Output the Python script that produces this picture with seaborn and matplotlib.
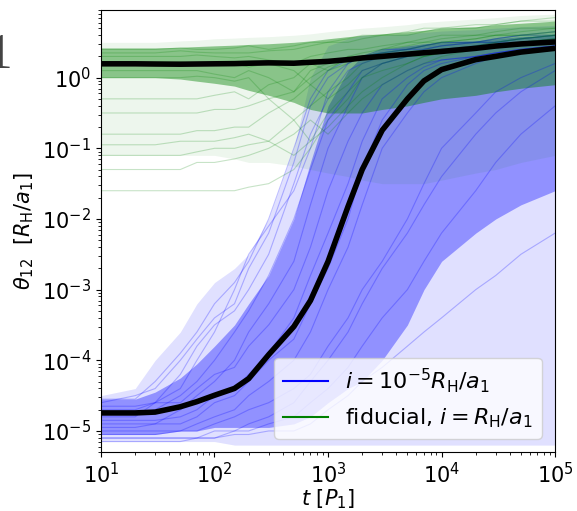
import numpy as np
import pandas as pd
import matplotlib
matplotlib.use('Agg')
import matplotlib.pyplot as plt
import seaborn as sns

# time grid (in P1) shared by all traced curves
t = [10, 20, 30, 50, 70, 100, 150, 200, 300, 500, 700, 1000,
     1500, 2000, 3000, 5000, 7000, 10000, 20000, 30000, 50000, 100000]

# medians (black curves)
blue_median = [1.8e-5, 1.8e-5, 1.85e-5, 2.2e-5, 2.6e-5, 3.2e-5, 4.0e-5, 5.5e-5,
               1.2e-4, 3.0e-4, 7.0e-4, 2.5e-3, 1.5e-2, 5.0e-2, 0.18, 0.5, 0.9,
               1.3, 1.8, 2.0, 2.3, 2.6]
green_median = [1.57, 1.57, 1.56, 1.55, 1.56, 1.57, 1.58, 1.6, 1.62, 1.6, 1.65, 1.7,
                1.8, 1.9, 2.0, 2.15, 2.25, 2.35, 2.6, 2.8, 3.0, 3.2]

# envelopes of the two clouds (log10 values)
blue_outer_lo = [-5.15] * 6 + [-5.2] * 16
blue_outer_hi = [-4.5, -4.4, -4.0, -3.6, -3.2, -2.9, -2.7, -2.5, -2.0, -1.0, 0.0, 0.45,
                 0.55, 0.6, 0.6, 0.62, 0.64, 0.66, 0.68, 0.7, 0.72, 0.74]
blue_inner_lo = [-5.05, -5.05, -5.05, -5.0, -5.0, -4.95, -4.95, -4.95, -4.95, -4.9, -4.8,
                 -4.6, -4.4, -4.3, -4.0, -3.5, -3.0, -2.6, -2.2, -2.0, -1.8, -1.6]
blue_inner_hi = [-4.55, -4.55, -4.45, -4.25, -4.05, -3.8, -3.5, -3.2, -2.8, -2.0, -1.2, -0.4,
                 0.1, 0.3, 0.4, 0.45, 0.48, 0.5, 0.52, 0.55, 0.58, 0.6]

green_outer_lo = [-1.1, -1.1, -1.1, -1.1, -1.1, -1.1, -1.15, -1.2, -1.2, -1.25, -1.3,
                  -1.35, -1.4, -1.45, -1.5, -1.5, -1.5, -1.45, -1.35, -1.3, -1.2, -1.1]
green_outer_hi = [0.5, 0.5, 0.5, 0.52, 0.53, 0.55, 0.56, 0.57, 0.58, 0.6, 0.62, 0.65,
                  0.68, 0.7, 0.72, 0.75, 0.78, 0.8, 0.83, 0.85, 0.88, 0.9]
green_inner_lo = [0.0, 0.0, 0.0, -0.02, -0.05, -0.08, -0.12, -0.18, -0.25, -0.35, -0.45,
                  -0.5, -0.5, -0.5, -0.45, -0.4, -0.35, -0.3, -0.25, -0.2, -0.15, -0.1]
green_inner_hi = [0.42, 0.42, 0.42, 0.43, 0.44, 0.45, 0.46, 0.47, 0.48, 0.5, 0.52, 0.55,
                  0.58, 0.6, 0.62, 0.65, 0.67, 0.7, 0.72, 0.75, 0.77, 0.8]

# a handful of individual trajectories (log10 values)
blue_lines = [
    [-4.9, -4.9, -4.9, -4.7, -4.5, -4.3, -4.0, -3.6, -3.2, -2.6, -1.8, -1.0, -0.4, 0.0, 0.2, 0.3, 0.35, 0.4, 0.4, 0.45, 0.5, 0.5],
    [-4.8, -4.8, -4.6, -4.2, -3.8, -3.5, -3.3, -3.0, -2.5, -1.5, -0.8, -0.3, 0.1, 0.2, 0.3, 0.3, 0.4, 0.45, 0.5, 0.5, 0.55, 0.6],
    [-5.0, -5.0, -5.0, -5.0, -4.9, -4.8, -4.7, -4.5, -4.3, -4.0, -3.6, -3.0, -2.4, -1.8, -1.0, -0.5, -0.2, 0.0, 0.2, 0.3, 0.35, 0.4],
    [-4.7, -4.7, -4.6, -4.6, -4.4, -4.2, -4.1, -3.8, -3.5, -3.0, -2.4, -1.6, -0.9, -0.5, -0.1, 0.1, 0.2, 0.25, 0.3, 0.35, 0.4, 0.45],
    [-5.1, -5.1, -5.1, -5.1, -5.1, -5.0, -5.0, -4.9, -4.8, -4.6, -4.3, -4.0, -3.6, -3.2, -2.7, -2.2, -1.8, -1.4, -0.8, -0.5, -0.2, 0.1],
    [-4.6, -4.5, -4.4, -4.0, -3.7, -3.4, -3.2, -2.7, -2.2, -1.2, -0.4, 0.0, 0.2, 0.3, 0.35, 0.4, 0.4, 0.45, 0.5, 0.5, 0.55, 0.6],
    [-4.95, -4.95, -4.9, -4.9, -4.8, -4.6, -4.5, -4.3, -4.0, -3.7, -3.2, -2.7, -2.0, -1.3, -0.6, -0.1, 0.1, 0.2, 0.3, 0.35, 0.4, 0.45],
    [-5.05, -5.05, -5.05, -5.0, -5.0, -4.9, -4.8, -4.7, -4.6, -4.4, -4.2, -3.8, -3.4, -3.0, -2.6, -2.0, -1.5, -1.0, -0.5, -0.2, 0.0, 0.2],
    [-4.75, -4.75, -4.7, -4.5, -4.3, -4.0, -3.6, -3.3, -2.8, -2.0, -1.3, -0.6, -0.2, 0.1, 0.2, 0.3, 0.35, 0.4, 0.45, 0.5, 0.5, 0.55],
    [-4.85, -4.85, -4.85, -4.8, -4.7, -4.5, -4.4, -4.2, -3.9, -3.4, -2.8, -2.2, -1.5, -0.9, -0.3, 0.0, 0.15, 0.25, 0.3, 0.35, 0.4, 0.45],
    [-5.15, -5.15, -5.15, -5.15, -5.1, -5.1, -5.0, -5.0, -4.9, -4.8, -4.6, -4.4, -4.1, -3.8, -3.4, -3.0, -2.6, -2.2, -1.6, -1.2, -0.8, -0.4],
    [-4.55, -4.55, -4.3, -3.9, -3.6, -3.2, -2.9, -2.6, -2.0, -1.0, -0.3, 0.1, 0.25, 0.3, 0.4, 0.4, 0.45, 0.5, 0.5, 0.55, 0.6, 0.6],
    [-5.1, -5.1, -5.1, -5.1, -5.1, -5.1, -5.05, -5.05, -5.0, -5.0, -4.9, -4.7, -4.5, -4.3, -4.1, -3.8, -3.6, -3.4, -3.0, -2.8, -2.5, -2.2],
    [-4.65, -4.65, -4.6, -4.4, -4.0, -3.6, -3.0, -2.5, -2.1, -1.6, -1.0, -0.2, 0.2, 0.3, 0.35, 0.4, 0.45, 0.5, 0.5, 0.55, 0.6, 0.65],
]
green_lines = [
    [0.3, 0.3, 0.3, 0.3, 0.32, 0.3, 0.28, 0.3, 0.25, 0.2, 0.3, 0.35, 0.4, 0.4, 0.45, 0.5, 0.55, 0.6, 0.6, 0.65, 0.7, 0.7],
    [0.4, 0.4, 0.4, 0.42, 0.4, 0.4, 0.42, 0.45, 0.4, 0.45, 0.5, 0.5, 0.55, 0.6, 0.6, 0.65, 0.7, 0.7, 0.75, 0.75, 0.8, 0.8],
    [0.1, 0.1, 0.1, 0.1, 0.1, 0.05, 0.0, 0.1, 0.0, -0.2, 0.1, 0.2, 0.3, 0.3, 0.4, 0.5, 0.5, 0.55, 0.6, 0.6, 0.65, 0.7],
    [-0.3, -0.3, -0.3, -0.3, -0.3, -0.25, -0.2, -0.3, -0.1, 0.0, 0.2, 0.1, 0.3, 0.35, 0.4, 0.45, 0.5, 0.5, 0.55, 0.6, 0.6, 0.65],
    [-0.8, -0.8, -0.8, -0.8, -0.75, -0.75, -0.7, -0.7, -0.5, -0.3, -0.1, 0.1, 0.2, 0.3, 0.35, 0.4, 0.45, 0.5, 0.5, 0.55, 0.6, 0.6],
    [-1.1, -1.1, -1.1, -1.1, -1.05, -1.0, -1.0, -0.95, -0.9, -0.6, -0.4, -0.2, 0.0, 0.2, 0.3, 0.35, 0.4, 0.45, 0.5, 0.5, 0.55, 0.6],
    [-1.6, -1.6, -1.6, -1.6, -1.6, -1.6, -1.6, -1.55, -1.5, -1.3, -1.0, -0.6, -0.3, 0.0, 0.2, 0.3, 0.35, 0.4, 0.45, 0.5, 0.55, 0.6],
    [0.35, 0.35, 0.35, 0.38, 0.36, 0.35, 0.35, 0.35, 0.38, 0.4, 0.45, 0.5, 0.5, 0.55, 0.6, 0.6, 0.65, 0.7, 0.7, 0.75, 0.8, 0.85],
    [0.2, 0.2, 0.2, 0.22, 0.2, 0.2, 0.2, 0.15, 0.2, 0.1, -0.1, -0.3, -0.1, 0.1, 0.2, 0.3, 0.3, 0.35, 0.4, 0.45, 0.5, 0.55],
    [-0.5, -0.5, -0.5, -0.5, -0.5, -0.45, -0.45, -0.4, -0.3, -0.2, 0.0, 0.15, 0.25, 0.3, 0.35, 0.4, 0.45, 0.5, 0.55, 0.6, 0.6, 0.65],
    [-1.3, -1.3, -1.3, -1.3, -1.2, -1.2, -1.15, -1.1, -1.0, -0.8, -0.6, -0.8, -0.5, -0.3, -0.1, 0.1, 0.2, 0.3, 0.4, 0.45, 0.5, 0.55],
    [0.0, 0.0, 0.0, 0.0, 0.02, 0.0, -0.05, 0.0, -0.3, -0.6, -0.9, -0.5, -0.2, 0.0, 0.1, 0.2, 0.3, 0.35, 0.4, 0.45, 0.5, 0.55],
    [-0.95, -0.95, -0.95, -0.9, -0.9, -0.9, -0.85, -0.8, -0.9, -1.1, -0.9, -0.7, -0.4, -0.2, 0.0, 0.2, 0.3, 0.35, 0.45, 0.5, 0.55, 0.6],
]


def to_long(lines, group):
    rows = []
    for k, vals in enumerate(lines):
        for tt, v in zip(t, vals):
            rows.append({'t': tt, 'theta': 10.0 ** v, 'run': k, 'group': group})
    return pd.DataFrame(rows)


df_blue = to_long(blue_lines, 'blue')
df_green = to_long(green_lines, 'green')

fig = plt.figure(figsize=(5.77, 5.11), dpi=100)
ax = fig.add_axes([0.175, 0.115, 0.787, 0.865])

tt = np.array(t)
p = lambda a: 10.0 ** np.array(a)

# blue cloud
ax.fill_between(tt, p(blue_outer_lo), p(blue_outer_hi), color='blue', alpha=0.12, lw=0)
ax.fill_between(tt, p(blue_inner_lo), p(blue_inner_hi), color='blue', alpha=0.35, lw=0)
sns.lineplot(data=df_blue, x='t', y='theta', units='run', estimator=None,
             color='blue', alpha=0.25, lw=0.8, ax=ax)

# green cloud
ax.fill_between(tt, p(green_outer_lo), p(green_outer_hi), color='green', alpha=0.07, lw=0)
ax.fill_between(tt, p(green_inner_lo), p(green_inner_hi), color='green', alpha=0.42, lw=0)
sns.lineplot(data=df_green, x='t', y='theta', units='run', estimator=None,
             color='green', alpha=0.22, lw=0.8, ax=ax)

# medians
ax.plot(t, blue_median, color='black', lw=4, solid_capstyle='butt')
ax.plot(t, green_median, color='black', lw=4, solid_capstyle='butt')

ax.set_xscale('log')
ax.set_yscale('log')
ax.set_xlim(10, 1e5)
ax.set_ylim(5e-6, 9)
ax.tick_params(labelsize=15)
ax.set_xlabel(r'$t\ [P_1]$', fontsize=15, labelpad=0)
ax.set_ylabel(r'$\theta_{12}$  $[R_\mathrm{H}/a_1]$', fontsize=15)

leg_handles = [plt.Line2D([], [], color='blue', lw=1.5),
               plt.Line2D([], [], color='green', lw=1.5)]
ax.legend(leg_handles, [r'$i=10^{-5}R_\mathrm{H}/a_1$', r'fiducial, $i=R_\mathrm{H}/a_1$'],
          loc='lower right', fontsize=16, borderaxespad=0.6)

fig.text(0.021, 0.89, '1', fontsize=37, family='Liberation Serif', color='#444444',
         ha='right', va='center')

fig.savefig('out.png', dpi=100)
